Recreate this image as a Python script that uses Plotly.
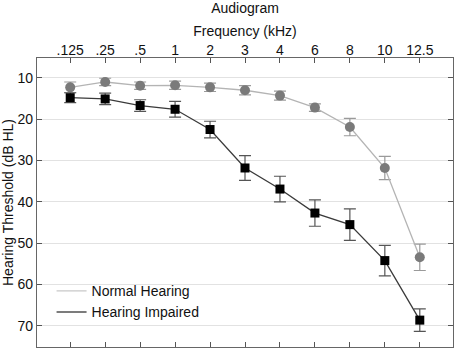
import plotly.graph_objects as go

freqs = [".125", ".25", ".5", "1", "2", "3", "4", "6", "8", "10", "12.5"]
normal = [12.3, 11.0, 11.9, 11.8, 12.3, 13.0, 14.3, 17.2, 21.9, 31.8, 53.4]
normal_err = [1.3, 0.9, 0.9, 1.0, 1.0, 1.1, 1.1, 0.9, 2.1, 2.8, 3.2]
impaired = [14.8, 15.1, 16.7, 17.6, 22.5, 31.8, 36.9, 42.7, 45.5, 54.2, 68.6]
impaired_err = [1.2, 1.4, 1.4, 1.9, 2.0, 3.0, 3.1, 3.2, 3.8, 3.7, 2.7]

FONT = "Liberation Sans, Arial, sans-serif"
fig = go.Figure()

fig.add_trace(go.Scatter(
    x=freqs, y=normal, mode="lines+markers", showlegend=False,
    line=dict(color="#b4b4b4", width=1.3),
    marker=dict(symbol="circle", size=10, color="#7a7a7a"),
    error_y=dict(type="data", array=normal_err, color="#9a9a9a", thickness=1.2, width=6),
))
fig.add_trace(go.Scatter(
    x=freqs, y=impaired, mode="lines+markers", showlegend=False,
    line=dict(color="#3a3a3a", width=1.3),
    marker=dict(symbol="square", size=9, color="#000000"),
    error_y=dict(type="data", array=impaired_err, color="#555555", thickness=1.2, width=6),
))
# legend-only line entries
fig.add_trace(go.Scatter(x=[None], y=[None], mode="lines", name="Normal Hearing",
                         line=dict(color="#c8c8c8", width=1.3)))
fig.add_trace(go.Scatter(x=[None], y=[None], mode="lines", name="Hearing Impaired",
                         line=dict(color="#505050", width=1.3)))

fig.update_layout(
    width=455, height=348,
    margin=dict(l=37, r=2, t=58, b=1, autoexpand=False),
    paper_bgcolor="white", plot_bgcolor="white",
    font=dict(family=FONT, size=14, color="#111111"),
    title=dict(text="Audiogram", x=245 / 455, xanchor="center", y=1 - 8 / 348, yanchor="middle",
               font=dict(size=14)),
    showlegend=True,
    legend=dict(x=0.035, y=0.065, xanchor="left", yanchor="bottom",
                bgcolor="rgba(0,0,0,0)", font=dict(size=14), tracegroupgap=0),
    xaxis=dict(
        type="category", side="top", range=[-0.95, 10.95], automargin=False,
        title=dict(text="Frequency (kHz)", standoff=2, font=dict(size=14)),
        ticks="inside", ticklen=5, tickcolor="#555", mirror="ticks",
        showline=True, linecolor="#666", linewidth=1.2, showgrid=False,
        tickfont=dict(size=14), ticklabelstandoff=-4,
    ),
    yaxis=dict(
        range=[75.1, 5.2], tickvals=[10, 20, 30, 40, 50, 60, 70], automargin=False,
        title=dict(text="Hearing Threshold (dB HL)", standoff=2, font=dict(size=14)),
        ticks="inside", ticklen=5, tickcolor="#555", mirror="ticks",
        showline=True, linecolor="#666", linewidth=1.2,
        showgrid=True, gridcolor="#e2e2e2", gridwidth=1, zeroline=False,
        tickfont=dict(size=14),
    ),
)

fig.write_html("out.html", config={"displayModeBar": False})
with open("out.html", "r", encoding="utf-8") as f:
    html = f.read()
html = html.replace("<head>", "<head><style>html,body{margin:0;padding:0;overflow:hidden;}</style>", 1)
with open("out.html", "w", encoding="utf-8") as f:
    f.write(html)
